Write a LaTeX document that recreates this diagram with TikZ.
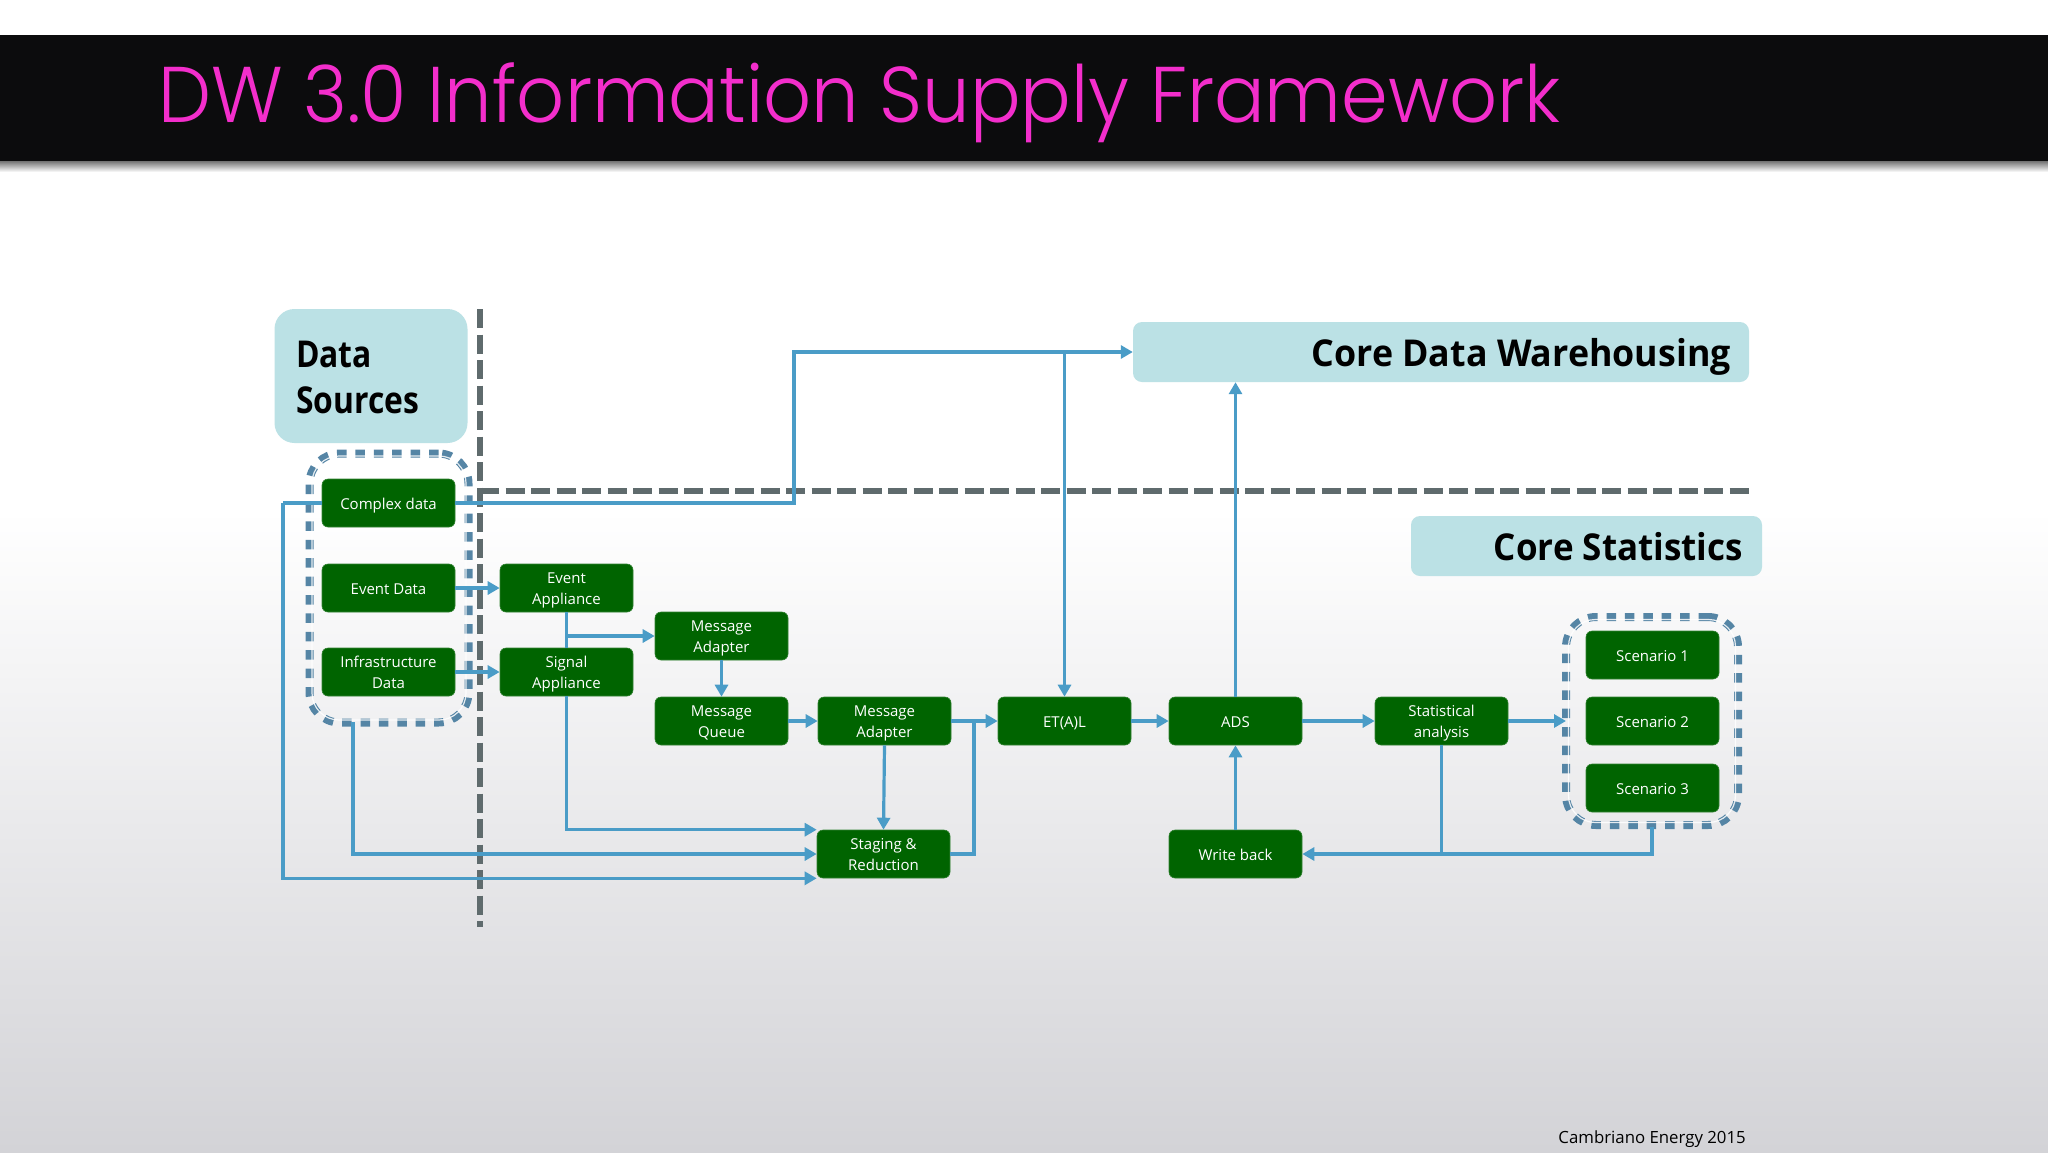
\documentclass[tikz,border=0pt]{standalone}
\usepackage{fontspec}
\usetikzlibrary{arrows.meta,calc}
\setmainfont{Open Sans}
\newfontfamily\titlefont{Poppins Light}
\newcommand\lbl[1]{\raisebox{-2.6pt}[11pt][4pt]{#1}}
\definecolor{boxgreen}{HTML}{006400}
\definecolor{flow}{HTML}{4A9CC7}
\definecolor{divider}{HTML}{5F6B6D}
\definecolor{groupline}{HTML}{5585A5}
\definecolor{pale}{HTML}{BBE1E5}
\definecolor{titlepink}{HTML}{F32ECB}
\definecolor{barblack}{HTML}{0C0C0D}
\definecolor{bottomgrey}{HTML}{D3D3D7}
\tikzset{
  x=1pt,y=-1pt,
  gbox/.style={rectangle,rounded corners=6pt,fill=boxgreen,draw=boxgreen!80!white,line width=0.6pt,
    minimum width=133pt,minimum height=48pt,inner sep=0pt,text=white,align=center,
    font=\fontsize{15}{20.5}\selectfont},
  flowline/.style={draw=flow,line width=3.2pt},
  flowarrow/.style={flowline,-{Triangle[length=12pt,width=13pt]}},
  dividerline/.style={draw=divider,line width=5.6pt,dash pattern=on 19pt off 6.5pt},
  groupouter/.style={rectangle,draw=groupline,line width=8pt,rounded corners=30pt,inner sep=0pt,dash pattern=on 9.5pt off 8.9pt},
  groupslit/.style={rectangle,draw=white,draw opacity=0.85,line width=1.2pt,rounded corners=27pt,inner sep=0pt},
  palebox/.style={rectangle,fill=pale,inner sep=0pt},
  headtext/.style={font=\fontsize{37}{46}\selectfont\bfseries,text=black,inner sep=0pt},
}
\begin{document}
\begin{tikzpicture}
\useasboundingbox (0,0) rectangle (2048,1152);
% background
\fill[white] (0,0) rectangle (2048,510);
\shade[top color=white,bottom color=bottomgrey] (0,510) rectangle (2048,1152);
% title bar
\shade[top color=black!55!white,bottom color=white] (0,161) rectangle (2048,172);
\fill[barblack] (0,35) rectangle (2048,161);
\node[anchor=base west,inner sep=0pt,text=titlepink,font=\titlefont\fontsize{79}{90}\selectfont] (title) at (158,122) {\scalebox{0.95}[1]{DW 3.0 Information Supply Framework}};
% pale headings
\node[palebox,rounded corners=20pt,minimum width=193pt,minimum height=134pt] (dsbox) at (371,376) {};
\node[headtext,anchor=west,align=left] (dstext) at (296,377) {\scalebox{0.86}[1]{Data}\\\scalebox{0.86}[1]{Sources}};
\node[palebox,rounded corners=9pt,minimum width=616pt,minimum height=60pt] (cdw) at (1441,352) {};
\node[headtext,anchor=east] (cdwtext) at (1731,357) {\scalebox{0.967}[1]{Core Data Warehousing}};
\node[palebox,rounded corners=9pt,minimum width=351pt,minimum height=60pt] (cst) at (1586.5,546) {};
\node[headtext,anchor=east] (csttext) at (1743,547) {\scalebox{0.945}[1]{Core Statistics}};
% groups
\node[groupouter,minimum width=159pt,minimum height=269pt] (dsgroup) at (389,588) {};
\node[groupslit,minimum width=154pt,minimum height=264pt] (dsslit) at (389,588) {};
\node[groupouter,minimum width=172pt,minimum height=208pt] (scgroup) at (1652,721) {};
\node[groupslit,minimum width=167pt,minimum height=203pt] (scslit) at (1652,721) {};
% dividers
\coordinate (vtop) at (480,309);
\coordinate (vbot) at (480,927);
\coordinate (hleft) at (480,491);
\coordinate (hright) at (1750,491);
\draw[dividerline] (vtop) -- (vbot);
\draw[dividerline] (hleft) -- (hright);
% free ends
\coordinate (leftbus) at (283,503);
\coordinate (upbend) at (794,503);
\coordinate (infout) at (353,722);
\coordinate (mergept) at (974,721);
% nodes
\node[gbox] (cx) at (388.5,503) {\lbl{Complex data}};
\node[gbox] (ev) at (388.5,588) {\lbl{Event Data}};
\node[gbox] (inf) at (388.5,672) {\lbl{Infrastructure}\\\lbl{Data}};
\node[gbox] (ea) at (566.5,588) {\lbl{Event}\\\lbl{Appliance}};
\node[gbox] (sa) at (566.5,672) {\lbl{Signal}\\\lbl{Appliance}};
\node[gbox] (ma) at (721.5,636) {\lbl{Message}\\\lbl{Adapter}};
\node[gbox] (mq) at (721.5,721) {\lbl{Message}\\\lbl{Queue}};
\node[gbox] (mb) at (884.5,721) {\lbl{Message}\\\lbl{Adapter}};
\node[gbox] (st) at (883.5,854) {\lbl{Staging \&}\\\lbl{Reduction}};
\node[gbox] (et) at (1064.5,721) {\lbl{ET(A)L}};
\node[gbox] (ads) at (1235.5,721) {\lbl{ADS}};
\node[gbox] (wb) at (1235.5,854) {\lbl{Write back}};
\node[gbox] (sta) at (1441.5,721) {\lbl{Statistical}\\\lbl{analysis}};
\node[gbox] (s1) at (1652.5,655) {\lbl{Scenario 1}};
\node[gbox] (s2) at (1652.5,721) {\lbl{Scenario 2}};
\node[gbox] (s3) at (1652.5,788) {\lbl{Scenario 3}};
% connectors
\draw[flowline] (cx.west) -- (leftbus);
\draw[flowarrow] (leftbus) |- (st.south west);
\draw[flowarrow] (cx.east) -- (upbend) |- (cdw.west);
\draw[flowarrow] (et.north |- cdw.west) -- (et.north);
\draw[flowarrow] (ads.north) -- (ads.north |- cdw.south);
\draw[flowarrow] (ev.east) -- (ea.west);
\draw[flowarrow] (inf.east) -- (sa.west);
\draw[flowline] (ea.south) -- (sa.north);
\draw[flowarrow] (ea.south |- ma.west) -- (ma.west);
\draw[flowarrow] (sa.south) |- (st.north west);
\draw[flowarrow] (infout) |- (st.west);
\draw[flowarrow] (ma.south) -- (mq.north);
\draw[flowarrow] (mq.east) -- (mb.west);
\draw[flowarrow] (mb.south) -- (st.north);
\draw[flowarrow] (mb.east) -- (et.west);
\draw[flowline] (st.east) -| (mergept);
\draw[flowarrow] (et.east) -- (ads.west);
\draw[flowarrow] (wb.north) -- (ads.south);
\draw[flowarrow] (ads.east) -- (sta.west);
\draw[flowarrow] (sta.east) -- ([xshift=4pt]scgroup.west);
\draw[flowarrow] ([yshift=2pt]scgroup.south) |- (wb.east);
\draw[flowline] (sta.south) -- (sta.south |- wb.east);
\node[anchor=base east,inner sep=0pt,text=black,font=\fontsize{16.8}{20}\selectfont] (foot) at (1746,1143) {Cambriano Energy 2015};
\end{tikzpicture}
\end{document}
